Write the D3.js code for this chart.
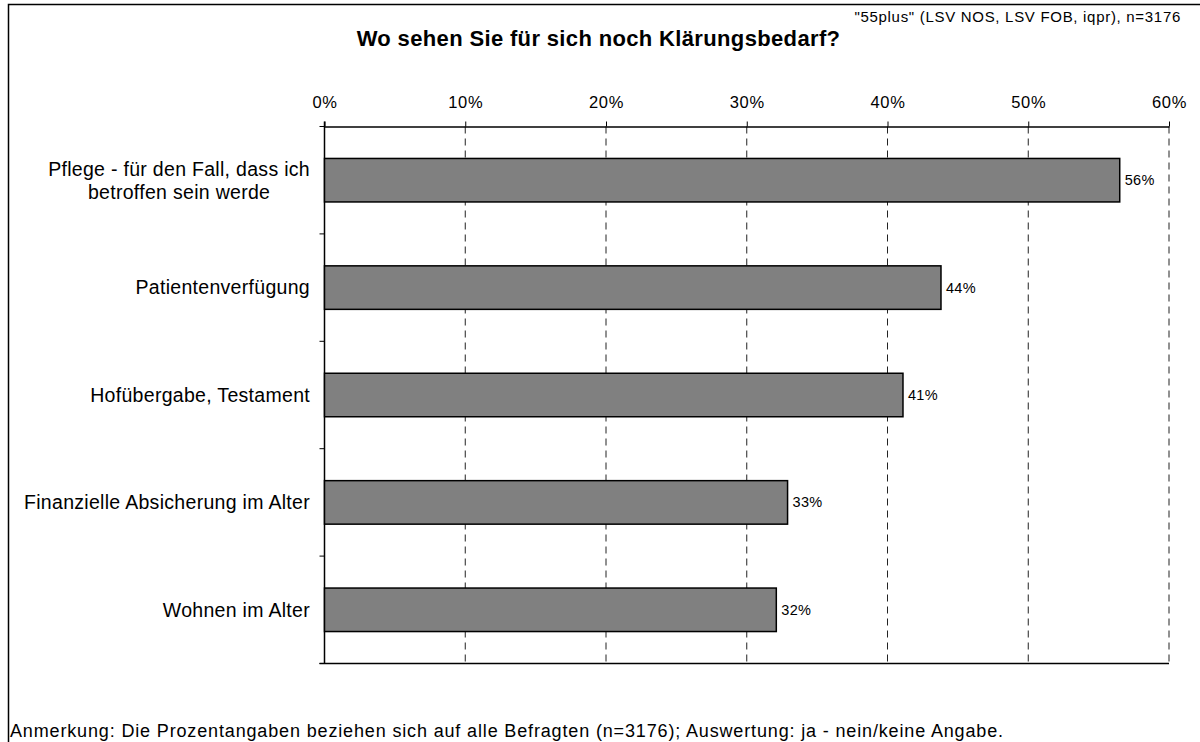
<!DOCTYPE html>
<html>
<head>
<meta charset="utf-8">
<script src="https://cdn.jsdelivr.net/npm/d3@7"></script>
<style>
  html, body { margin: 0; padding: 0; background: #fff; }
  svg { display: block; font-family: "Liberation Sans", Arial, sans-serif; }
</style>
</head>
<body>
<svg id="chart" width="1200" height="742"></svg>
<script>
// Survey answers: where respondents still see a need for clarification
const categories = [
  ["Pflege - für den Fall, dass ich", "betroffen sein werde"],
  ["Patientenverfügung"],
  ["Hofübergabe, Testament"],
  ["Finanzielle Absicherung im Alter"],
  ["Wohnen im Alter"]
];
const values = [56.5, 43.8, 41.1, 32.9, 32.1];
const valueLabels = ["56%", "44%", "41%", "33%", "32%"];
const tickValues = [0, 10, 20, 30, 40, 50, 60];

const titleText = "Wo sehen Sie für sich noch Klärungsbedarf?";
const sourceText = "\"55plus\" (LSV NOS, LSV FOB, iqpr), n=3176";
const noteText = "Anmerkung: Die Prozentangaben beziehen sich auf alle Befragten (n=3176); Auswertung: ja - nein/keine Angabe.";

const svg = d3.select("#chart");
const plot = { left: 324.5, right: 1169, top: 126.5, bottom: 663.5 };

// Outer frame
svg.append("rect")
  .attr("x", 8.5).attr("y", 4.5)
  .attr("width", 1200).attr("height", 760)
  .attr("fill", "none").attr("stroke", "#000").attr("stroke-width", 1.5);

const x = d3.scaleLinear().domain([0, 60]).range([plot.left, plot.right]);
const y = d3.scaleBand()
  .domain(d3.range(categories.length))
  .range([plot.top, plot.bottom])
  .paddingInner(0.595).paddingOuter(0.2975);
const yb = d3.scaleBand()
  .domain(d3.range(categories.length))
  .range([plot.top, plot.bottom]);

// Dashed vertical gridlines
svg.append("g").selectAll("line")
  .data(tickValues.filter(d => d > 0))
  .join("line")
  .attr("x1", d => x(d)).attr("x2", d => x(d))
  .attr("y1", plot.top).attr("y2", plot.bottom)
  .attr("stroke", "#222").attr("stroke-width", 1)
  .attr("stroke-dasharray", "7,5");

// Top axis with percentage ticks
const xAxis = d3.axisTop(x)
  .tickValues(tickValues)
  .tickFormat(d => d + "%")
  .tickSize(5).tickSizeOuter(0).tickPadding(14);
const gx = svg.append("g")
  .attr("transform", `translate(0,${plot.top})`)
  .call(xAxis);
gx.select(".domain").attr("stroke", "#000").attr("stroke-width", 1.5);
gx.selectAll(".tick line").attr("stroke", "#000").attr("stroke-width", 1);
gx.selectAll(".tick text")
  .attr("font-size", 16.5).attr("fill", "#000")
  .attr("letter-spacing", "0.6px")
  .attr("font-family", "Liberation Sans, Arial, sans-serif");

// Bottom border line of the plot
svg.append("line")
  .attr("x1", plot.left - 5).attr("x2", plot.right)
  .attr("y1", plot.bottom).attr("y2", plot.bottom)
  .attr("stroke", "#000").attr("stroke-width", 1.5);

// Left category axis with ticks on band boundaries
svg.append("line")
  .attr("x1", plot.left).attr("x2", plot.left)
  .attr("y1", plot.top - 5).attr("y2", plot.bottom)
  .attr("stroke", "#000").attr("stroke-width", 1.5);
const boundaries = d3.range(categories.length + 1).map(i =>
  i < categories.length ? yb(i) : plot.bottom);
svg.append("g").selectAll("line")
  .data(boundaries)
  .join("line")
  .attr("x1", plot.left - 5).attr("x2", plot.left)
  .attr("y1", d => d).attr("y2", d => d)
  .attr("stroke", "#000").attr("stroke-width", 1);

// Bars
svg.append("g").selectAll("rect")
  .data(values)
  .join("rect")
  .attr("x", x(0))
  .attr("y", (d, i) => y(i))
  .attr("width", d => x(d) - x(0))
  .attr("height", y.bandwidth())
  .attr("fill", "#808080")
  .attr("stroke", "#000").attr("stroke-width", 1.5);

// Value labels
svg.append("g").selectAll("text")
  .data(values)
  .join("text")
  .attr("x", d => x(d) + 5)
  .attr("y", (d, i) => y(i) + y.bandwidth() / 2)
  .attr("dy", "0.35em")
  .attr("font-size", 14.5)
  .attr("letter-spacing", "0.3px")
  .attr("fill", "#000")
  .text((d, i) => valueLabels[i]);

// Category labels (multi-line labels centred on their widest line)
const labelRight = 310;
const lg = svg.append("g");
categories.forEach((lines, i) => {
  const cy = yb(i) + yb.bandwidth() / 2;
  const lh = 23;
  const g = lg.append("g");
  const texts = lines.map((t, j) => g.append("text")
    .attr("y", cy + (j - (lines.length - 1) / 2) * lh)
    .attr("dy", "0.35em")
    .attr("font-size", 19.5)
    .attr("letter-spacing", "0.3px")
    .attr("fill", "#000")
    .text(t));
  const widths = texts.map(t => t.node().getComputedTextLength());
  const maxW = d3.max(widths);
  const cx = labelRight - maxW / 2;
  texts.forEach(t => t.attr("x", cx).attr("text-anchor", "middle"));
});

// Title, source and note
svg.append("text")
  .attr("x", 598.5).attr("y", 45.5)
  .attr("text-anchor", "middle")
  .attr("font-size", 22).attr("font-weight", "bold")
  .attr("letter-spacing", "0.35px")
  .text(titleText);
svg.append("text")
  .attr("x", 1181).attr("y", 22)
  .attr("text-anchor", "end")
  .attr("font-size", 15)
  .attr("letter-spacing", "0.7px")
  .text(sourceText);
svg.append("text")
  .attr("x", 10).attr("y", 737)
  .attr("font-size", 18)
  .attr("letter-spacing", "0.85px")
  .text(noteText);
</script>
</body>
</html>
